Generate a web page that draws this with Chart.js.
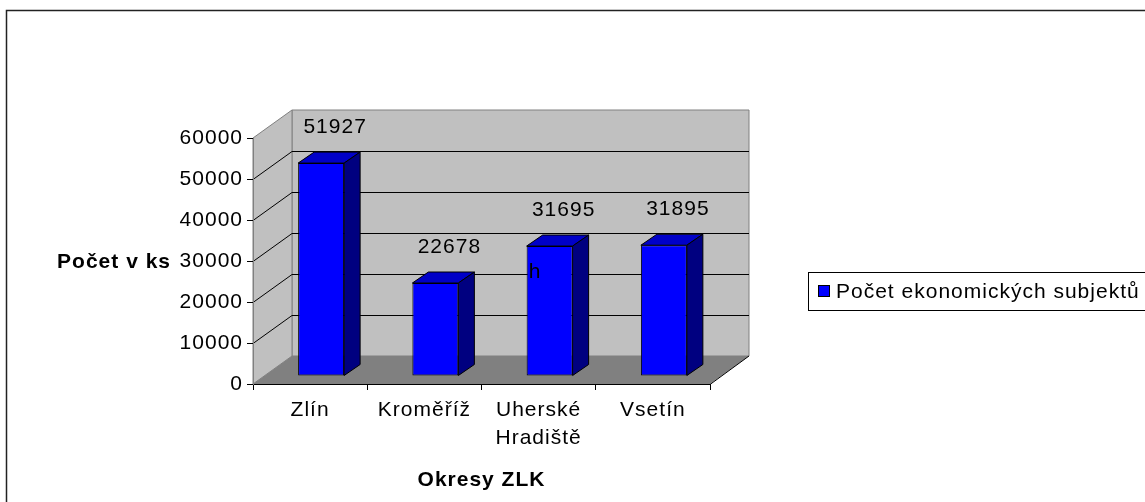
<!DOCTYPE html>
<html>
<head>
<meta charset="utf-8">
<script src="https://cdn.jsdelivr.net/npm/chart.js@4/dist/chart.umd.min.js"></script>
<style>
html,body{margin:0;padding:0;background:#fff;}
canvas{display:block;}
</style>
</head>
<body>
<canvas id="c" width="1145" height="502"></canvas>
<script>
// ---- data ----
const categories = ['Zlín', 'Kroměříž', ['Uherské', 'Hradiště'], 'Vsetín'];
const values = [51927, 22678, 31695, 31895];
const seriesName = 'Počet ekonomických subjektů';
const yTicks = [0, 10000, 20000, 30000, 40000, 50000, 60000];
const xTitle = 'Okresy ZLK';
const yTitle = 'Počet v ks';
const strayText = 'h';

// ---- style ----
const FONT = "'Liberation Sans', Arial, sans-serif";
const FS = 21;
const DEPTH = {dx: 39, dy: -28};      // wall depth
const BARFRONT = {dx: 11, dy: -8};    // bar front plane offset
const BARDEPTH = {dx: 16, dy: -11};   // bar depth
const LABELOFF = {dx: 14, dy: -36};

function poly(ctx, pts, fill, stroke, lw) {
  ctx.beginPath();
  ctx.moveTo(pts[0][0], pts[0][1]);
  for (let i = 1; i < pts.length; i++) ctx.lineTo(pts[i][0], pts[i][1]);
  ctx.closePath();
  if (fill) { ctx.fillStyle = fill; ctx.fill(); }
  if (stroke) { ctx.strokeStyle = stroke; ctx.lineWidth = lw || 1; ctx.stroke(); }
}

const scene = {
  id: 'scene',
  beforeDraw(chart) {
    const ctx = chart.ctx;
    const {left, right, top, bottom} = chart.chartArea;
    const ys = chart.scales.y;
    const dx = DEPTH.dx, dy = DEPTH.dy;
    ctx.save();
    ctx.fillStyle = '#fff';
    ctx.fillRect(0, 0, chart.width, chart.height);
    // outer frame
    ctx.strokeStyle = '#222';
    ctx.lineWidth = 1.5;
    ctx.beginPath();
    ctx.moveTo(6.5, chart.height + 2);
    ctx.lineTo(6.5, 10.5);
    ctx.lineTo(chart.width + 2, 10.5);
    ctx.stroke();
    ctx.lineWidth = 1;
    // back wall
    poly(ctx, [[left+dx, top+dy],[right+dx, top+dy],[right+dx, bottom+dy],[left+dx, bottom+dy]], '#C0C0C0', '#808080');
    // left wall
    poly(ctx, [[left, top],[left+dx, top+dy],[left+dx, bottom+dy],[left, bottom]], '#C0C0C0', '#808080');
    // floor
    poly(ctx, [[left, bottom],[right, bottom],[right+dx, bottom+dy],[left+dx, bottom+dy]], '#808080', null);
    ctx.strokeStyle = '#000';
    ctx.beginPath();
    ctx.moveTo(left, bottom + 0.5); ctx.lineTo(right, bottom + 0.5); ctx.lineTo(right+dx, bottom+dy);
    ctx.stroke();
    // gridlines
    ys.ticks.forEach(t => {
      if (t.value <= 0 || t.value >= ys.max) return;
      const py = Math.round(ys.getPixelForValue(t.value)) + 0.5;
      ctx.beginPath();
      ctx.moveTo(left, py);
      ctx.lineTo(left+dx, py+dy);
      ctx.lineTo(right+dx, py+dy);
      ctx.strokeStyle = '#000';
      ctx.stroke();
    });
    // y title (horizontal)
    ctx.letterSpacing = '1px';
    ctx.font = 'bold ' + FS + 'px ' + FONT;
    ctx.fillStyle = '#000';
    ctx.textAlign = 'right';
    ctx.textBaseline = 'middle';
    ctx.fillText(yTitle, 171, ys.getPixelForValue(30000) + 1);
    // legend
    const ds = chart.data.datasets[0];
    ctx.strokeStyle = '#000';
    ctx.lineWidth = 1;
    ctx.fillStyle = '#fff';
    ctx.fillRect(808.5, 272.5, 400, 38);
    ctx.strokeRect(808.5, 272.5, 400, 38);
    ctx.fillStyle = ds.backgroundColor;
    ctx.fillRect(818.5, 285.5, 11, 11);
    ctx.strokeRect(818.5, 285.5, 11, 11);
    ctx.fillStyle = '#000';
    ctx.font = FS + 'px ' + FONT;
    ctx.textAlign = 'left';
    ctx.fillText(ds.label, 836, 292);
    ctx.restore();
    ctx.letterSpacing = '1px';
  },
  beforeDatasetsDraw(chart) {
    chart.ctx.save();
    chart.ctx.translate(BARFRONT.dx, BARFRONT.dy);
  },
  afterDatasetsDraw(chart) {
    const ctx = chart.ctx;
    const meta = chart.getDatasetMeta(0);
    const bx = BARDEPTH.dx, by = BARDEPTH.dy;
    meta.data.forEach(bar => {
      const p = bar.getProps(['x', 'y', 'base', 'width'], true);
      const l = p.x - p.width / 2, r = p.x + p.width / 2;
      poly(ctx, [[l, p.y],[r, p.y],[r+bx, p.y+by],[l+bx, p.y+by]], '#0000C8', '#000', 1);
      poly(ctx, [[r, p.y],[r+bx, p.y+by],[r+bx, p.base+by],[r, p.base]], '#000080', '#000', 1);
    });
    ctx.restore();
    // data labels
    ctx.save();
    ctx.letterSpacing = '1px';
    ctx.font = FS + 'px ' + FONT;
    ctx.fillStyle = '#000';
    ctx.textAlign = 'center';
    ctx.textBaseline = 'middle';
    meta.data.forEach((bar, i) => {
      const p = bar.getProps(['x', 'y'], true);
      ctx.fillText(String(values[i]), p.x + BARFRONT.dx + LABELOFF.dx, p.y + BARFRONT.dy + LABELOFF.dy);
    });
    // stray glyph
    const b3 = meta.data[2].getProps(['x', 'y', 'width'], true);
    ctx.textAlign = 'left';
    ctx.textBaseline = 'alphabetic';
    ctx.fillText(strayText, b3.x - b3.width / 2 + BARFRONT.dx + 2, 278);
    ctx.restore();
  }
};

new Chart(document.getElementById('c'), {
  type: 'bar',
  data: {
    labels: categories,
    datasets: [{
      label: seriesName,
      data: values,
      backgroundColor: '#0000FF',
      borderColor: '#000',
      borderWidth: 1,
      borderSkipped: false,
      barPercentage: 0.4026,
      categoryPercentage: 1
    }]
  },
  options: {
    responsive: false,
    animation: false,
    devicePixelRatio: 1,
    layout: {padding: {left: 0, right: 435, top: 138, bottom: 0}},
    plugins: {legend: {display: false}, tooltip: {enabled: false}},
    scales: {
      x: {
        afterFit(s) { s.height = 118; },
        grid: {drawOnChartArea: false, color: '#000', tickLength: 6, offset: true},
        border: {display: false},
        ticks: {color: '#000', padding: 6, maxRotation: 0, autoSkip: false,
                font: {family: FONT, size: FS, lineHeight: 1.34}},
        title: {display: true, text: xTitle, color: '#000', padding: {top: 0, bottom: 9},
                font: {family: FONT, size: FS, weight: 'bold', lineHeight: 1.2}}
      },
      y: {
        min: 0, max: 60000,
        afterFit(s) { s.width = 253; },
        afterBuildTicks(s) { s.ticks = yTicks.map(v => ({value: v})); },
        grid: {drawOnChartArea: false, color: '#000', tickLength: 6},
        border: {display: true, color: '#808080'},
        ticks: {color: '#000', padding: 4, font: {family: FONT, size: FS},
                callback: v => String(v)}
      }
    }
  },
  plugins: [scene]
});
</script>
</body>
</html>
